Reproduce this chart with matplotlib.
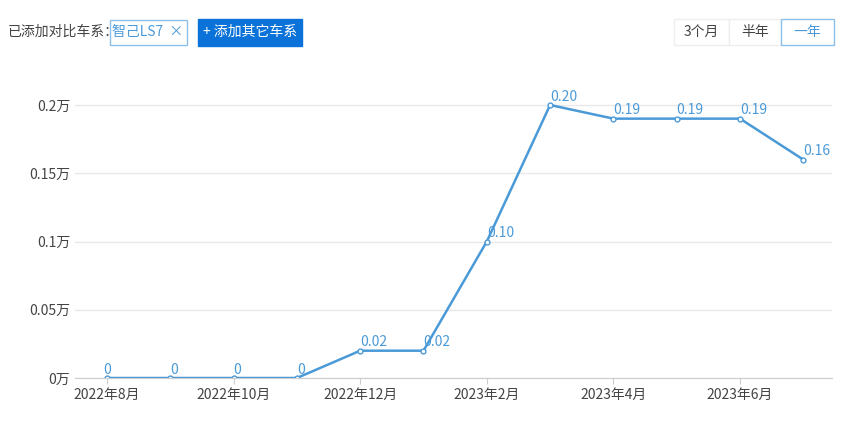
import matplotlib.pyplot as plt
from matplotlib.patches import Rectangle

plt.rcParams['font.family'] = ['Noto Sans CJK SC', 'DejaVu Sans']

months = list(range(12))
sales = [0, 0, 0, 0, 0.02, 0.02, 0.10, 0.20, 0.19, 0.19, 0.19, 0.16]
labels = ['0', '0', '0', '0', '0.02', '0.02', '0.10', '0.20', '0.19', '0.19', '0.19', '0.16']
tick_pos = [0, 2, 4, 6, 8, 10]
tick_labels = ['2022年8月', '2022年10月', '2022年12月', '2023年2月', '2023年4月', '2023年6月']
y_ticks = [0, 0.05, 0.1, 0.15, 0.2]
y_labels = ['0万', '0.05万', '0.1万', '0.15万', '0.2万']

W, H = 852, 432
fig = plt.figure(figsize=(W / 100, H / 100), dpi=100)
blue = '#4a9ad8'

# plot area: x 75..832, y 105 (0.2) .. 378 (0)
ax = fig.add_axes([75 / W, 1 - 378 / H, (832 - 75) / W, (378 - 78) / H])
ax.plot(months, sales, color=blue, lw=1.8, marker='o', ms=3.5, mfc='white', mec=blue, mew=1)
for x, y, t in zip(months, sales, labels):
    ax.text(x, y + 0.001, t, color=blue, fontsize=10, ha='left' if x > 0 else 'center', va='bottom')
x0 = -(107 - 75) / 63.3
ax.set_xlim(x0, x0 + (832 - 75) / 63.3)
ax.set_ylim(0, 0.2 * (378 - 78) / (378 - 105))
ax.set_yticks(y_ticks)
ax.set_yticklabels(y_labels)
ax.set_xticks(tick_pos)
ax.set_xticklabels(tick_labels)
ax.grid(axis='y', color='#e8e8e8', lw=1)
for s in ['top', 'right', 'left']:
    ax.spines[s].set_visible(False)
ax.spines['bottom'].set_color('#cccccc')
ax.tick_params(axis='y', length=0, labelsize=10, colors='#444444')
ax.tick_params(axis='x', length=4, color='#cccccc', labelsize=10, colors='#444444')

# header controls
def box(x, y, w, h, fc, ec):
    fig.patches.append(Rectangle((x / W, 1 - (y + h) / H), w / W, h / H, transform=fig.transFigure,
                                 facecolor=fc, edgecolor=ec, lw=1))

def txt(x, y, s, c, ha='center'):
    fig.text(x / W, 1 - y / H, s, color=c, fontsize=10, ha=ha, va='center')

txt(8, 32, '已添加对比车系：', '#444444', ha='left')
box(110, 20, 77, 25, 'white', '#8cc0ea')
txt(148, 32, '智己LS7  ×', blue)
box(198, 19, 104, 27, '#0a72d8', '#0a72d8')
txt(250, 32, '+ 添加其它车系', 'white')
box(674, 19, 55, 26, 'white', '#eeeeee')
txt(701, 32, '3个月', '#444444')
box(729, 19, 52, 26, 'white', '#eeeeee')
txt(755, 32, '半年', '#444444')
box(781, 19, 53, 26, 'white', '#8cc0ea')
txt(807, 32, '一年', blue)

fig.savefig('out.png', dpi=100)
